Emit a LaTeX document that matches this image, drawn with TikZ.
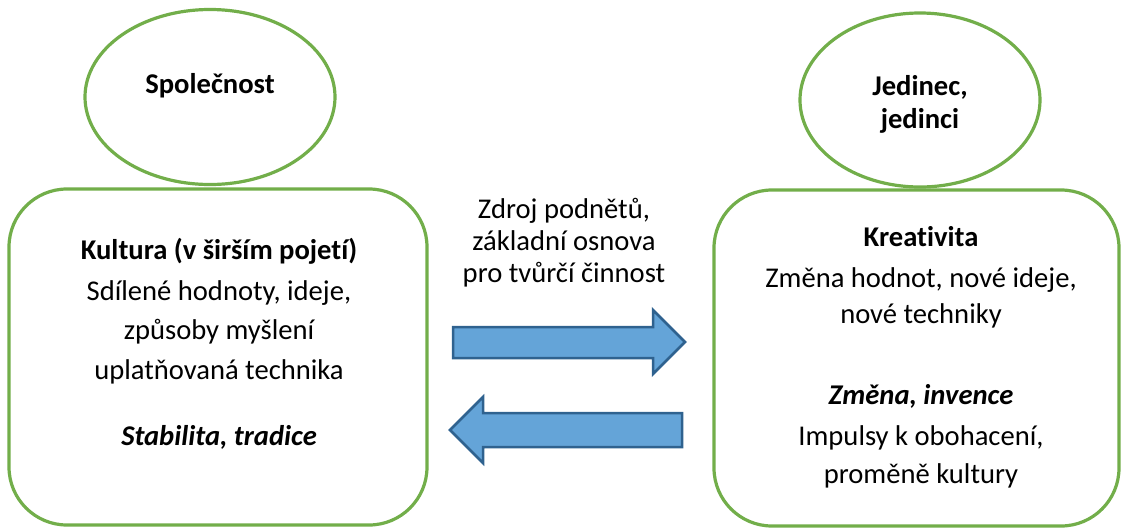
\documentclass[tikz,border=0pt]{standalone}
\usepackage{fontspec}
\setmainfont{Carlito}[Ligatures=NoCommon]
\usetikzlibrary{shapes.geometric}
\definecolor{grn}{HTML}{72AE4A}
\definecolor{arrfill}{HTML}{64A4D8}
\definecolor{arrdraw}{HTML}{2F628F}
\begin{document}
\begin{tikzpicture}[x=1pt,y=-1pt,
  txt/.style={font=\fontsize{28.6}{34}\selectfont, inner sep=0pt, anchor=base},
  btxt/.style={txt, font=\fontsize{28.6}{34}\selectfont\bfseries},
  bitxt/.style={txt, font=\fontsize{28.6}{34}\selectfont\bfseries\itshape},
  oval/.style={ellipse, draw=grn, line width=3.2pt},
  panel/.style={draw=grn, line width=3.2pt, rounded corners=58pt},
  bigarrow/.style={fill=arrfill, draw=arrdraw, line width=2.5pt, line join=miter}]
\useasboundingbox (0,0) rectangle (1122,531);
% ellipses
\node[oval, minimum width=250pt, minimum height=175pt] (soc) at (210,97) {};
\node[oval, minimum width=240pt, minimum height=174pt] (jed) at (920,100) {};
% boxes
\node[panel, minimum width=418pt, minimum height=336pt] (kult) at (218,357) {};
\node[panel, minimum width=405pt, minimum height=336pt] (krea) at (916.5,358) {};
% ellipse texts
\node[btxt] (t1) at (210,93) {Společnost};
\node[btxt] (t2) at (920,95) {Jedinec,};
\node[btxt] (t3) at (920,128) {jedinci};
% left box texts
\node[btxt] (k1) at (219,259) {Kultura (v širším pojetí)};
\node[txt] (k2) at (219,300) {Sdílené hodnoty, ideje,};
\node[txt] (k3) at (219,339) {způsoby myšlení};
\node[txt] (k4) at (219,379) {uplatňovaná technika};
\node[bitxt] (k5) at (219,445) {Stabilita, tradice};
% right box texts
\node[btxt] (r1) at (921,246) {Kreativita};
\node[txt] (r2) at (921,287) {Změna hodnot, nové ideje,};
\node[txt] (r3) at (921,323) {nové techniky};
\node[bitxt] (r4) at (921,404) {Změna, invence};
\node[txt] (r5) at (921,445) {Impulsy k obohacení,};
\node[txt] (r6) at (921,483) {proměně kultury};
% middle texts
\node[txt] (m1) at (564,218) {Zdroj podnětů,};
\node[txt] (m2) at (564,250) {základní osnova};
\node[txt] (m3) at (564,282) {pro tvůrčí činnost};
% arrows
\draw[bigarrow] (453,327) -- (653,327) -- (653,310) -- (685,342) -- (653,374) -- (653,358) -- (453,358) -- cycle;
\draw[bigarrow] (682,413) -- (483,413) -- (483,397) -- (450,430) -- (483,463) -- (483,447) -- (682,447) -- cycle;
\end{tikzpicture}
\end{document}
